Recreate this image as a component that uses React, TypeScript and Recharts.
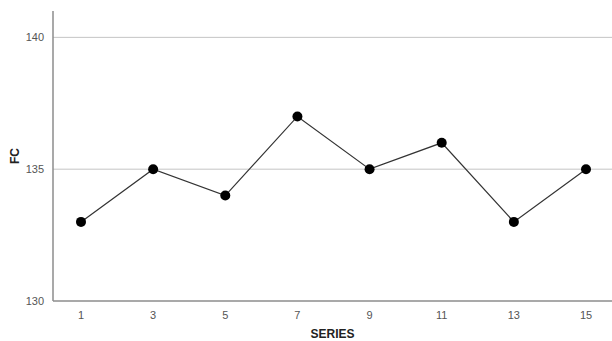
import { LineChart, Line, XAxis, YAxis, CartesianGrid } from "recharts";

const series = ["1", "3", "5", "7", "9", "11", "13", "15"];
const fc = [133, 135, 134, 137, 135, 136, 133, 135];
const yTicks = [130, 135, 140];
const gridValues = [135, 140];

const data = series.map((s, i) => ({ series: s, fc: fc[i] }));

const font = "Arial, 'Liberation Sans', sans-serif";

export default function App() {
  return (
    <div style={{ position: "absolute", left: 0, top: 0, width: 612, height: 341, background: "#fff", fontFamily: font }}>
      <LineChart width={612} height={341} data={data} margin={{ top: 11, right: 0, left: 0, bottom: 0 }}>
        <CartesianGrid vertical={false} horizontalValues={gridValues} stroke="#c4c4c4" />
        <XAxis
          dataKey="series"
          height={40}
          padding={{ left: 28, right: 26 }}
          tickLine={false}
          axisLine={{ stroke: "#8c8c8c", strokeWidth: 1.5 }}
          tick={{ fill: "#555", fontSize: 11, fontFamily: font }}
          tickMargin={4}
          label={{ value: "SERIES", position: "insideBottom", offset: 3, fill: "#222", fontSize: 12, fontWeight: "bold", fontFamily: font }}
        />
        <YAxis
          width={53}
          domain={[130, 141]}
          ticks={yTicks}
          tickLine={false}
          axisLine={{ stroke: "#8c8c8c", strokeWidth: 1.5 }}
          tick={{ fill: "#555", fontSize: 11, fontFamily: font }}
          tickMargin={3}
          label={{ value: "FC", angle: -90, position: "insideLeft", offset: 15, fill: "#222", fontSize: 12, fontWeight: "bold", fontFamily: font, style: { textAnchor: "middle" } }}
        />
        <Line
          type="linear"
          dataKey="fc"
          stroke="#333"
          strokeWidth={1.2}
          dot={{ r: 5, fill: "#000", stroke: "#000", strokeWidth: 0 }}
          activeDot={false}
          isAnimationActive={false}
        />
      </LineChart>
    </div>
  );
}
